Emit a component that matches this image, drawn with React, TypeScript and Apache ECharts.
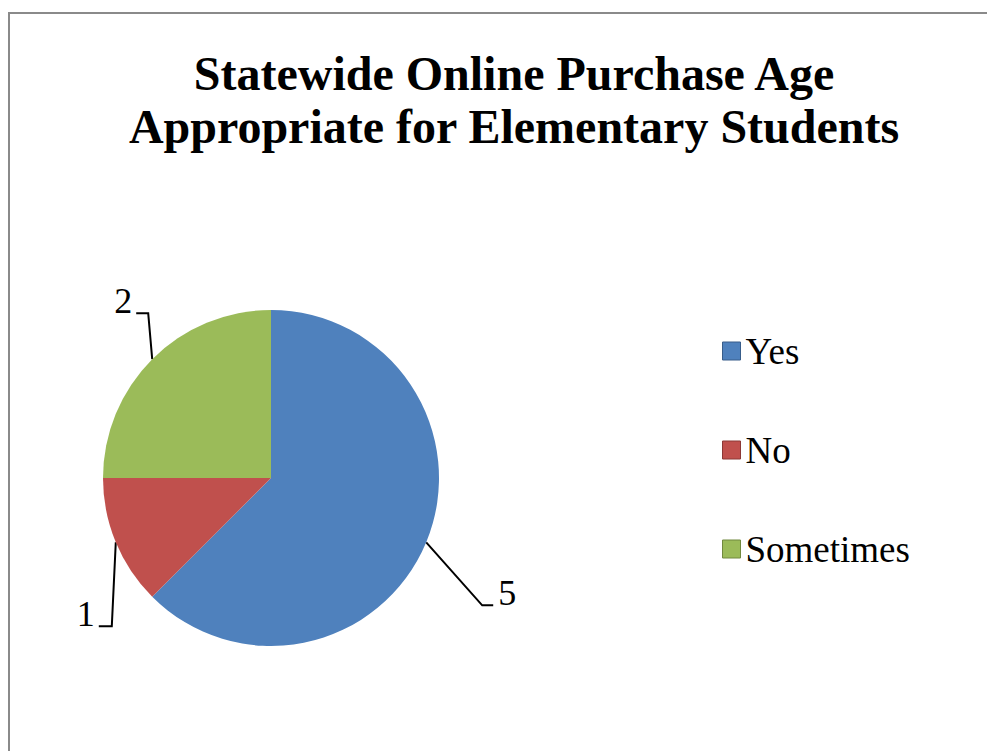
import React, { useEffect, useRef } from "react";
import * as echarts from "echarts";

const categories = ["Yes", "No", "Sometimes"];
const values = [5, 1, 2];
const titleLines = ["Statewide Online Purchase Age", "Appropriate for Elementary Students"];

const colors = ["#4F81BD", "#C0504D", "#9BBB59"];
const iconBorders = ["#385D8A", "#8C3836", "#71893F"];
// leader-line geometry relative to the slice edge point: [elbowDx, elbowDy, endDx, labelGap, align]
const leaderStyle: [number, number, number, number, string][] = [
  [56, 63, 67, 5, "left"],
  [-4, 84, -17, -4, "right"],
  [-4, -46, -16, -4, "right"],
];

export default function App() {
  const ref = useRef<HTMLDivElement>(null);
  useEffect(() => {
    if (!ref.current) return;
    const chart = echarts.init(ref.current, null, { renderer: "svg" });
    const font = "'Liberation Serif', 'Times New Roman', serif";
    chart.setOption({
      animation: false,
      backgroundColor: "#ffffff",
      title: {
        text: titleLines.join("\n"),
        left: 509,
        textAlign: "center",
        top: 42,
        textStyle: {
          fontFamily: font,
          fontWeight: "bold",
          fontSize: 48,
          lineHeight: 53,
          color: "#000",
        },
      },
      legend: {
        orient: "vertical",
        left: 717,
        top: 326,
        itemWidth: 18,
        itemHeight: 18,
        itemGap: 59,
        icon: "rect",
        data: categories.map((c, i) => ({
          name: c,
          itemStyle: { borderColor: iconBorders[i], borderWidth: 1 },
        })),
        textStyle: {
          fontFamily: font,
          fontSize: 37,
          lineHeight: 40,
          color: "#000",
          padding: [0, 0, 0, 0],
        },
      },
      graphic: [
        {
          type: "rect",
          shape: { x: 9, y: 13, width: 1100, height: 900 },
          style: { fill: "none", stroke: "#8a8a8a", lineWidth: 2 },
          silent: true,
          z: -1,
        },
      ],
      series: [
        {
          type: "pie",
          center: [271, 478],
          radius: 168,
          startAngle: 90,
          clockwise: true,
          avoidLabelOverlap: false,
          color: colors,
          data: categories.map((c, i) => ({ name: c, value: values[i] })),
          itemStyle: { borderWidth: 0 },
          emphasis: { disabled: true },
          label: {
            show: true,
            position: "outside",
            formatter: "{c}",
            fontFamily: font,
            fontSize: 36,
            color: "#000",
          },
          labelLine: {
            show: true,
            length: 20,
            length2: 10,
            lineStyle: { color: "#000", width: 2 },
          },
          labelLayout: (params: any) => {
            const pts = params.labelLinePoints;
            if (!pts) return {};
            const [ex, ey] = pts[0];
            const s = leaderStyle[params.dataIndex];
            const elbow = [ex + s[0], ey + s[1]];
            const end = [ex + s[2], ey + s[1]];
            return {
              x: end[0] + s[3],
              y: end[1] - 12,
              align: s[4],
              verticalAlign: "middle",
              labelLinePoints: [[ex, ey], elbow, end],
            };
          },
        },
      ],
    });
    return () => chart.dispose();
  }, []);
  return (
    <div
      ref={ref}
      style={{ position: "fixed", left: 0, top: 0, width: 987, height: 751 }}
    />
  );
}
